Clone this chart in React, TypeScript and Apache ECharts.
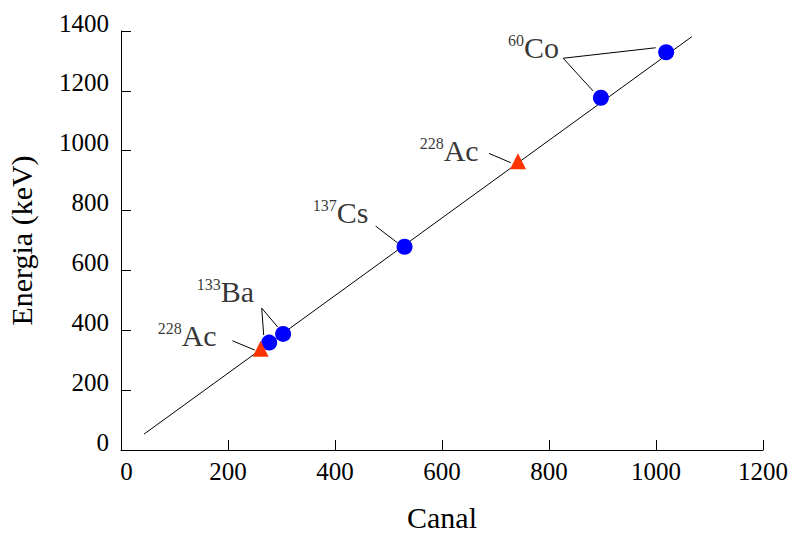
import React, { useEffect, useRef } from "react";
import * as echarts from "echarts";

const xTicks = { min: 0, max: 1200, interval: 200 };
const yTicks = { min: 0, max: 1400, interval: 200 };

// Calibration points: [canal, energy keV]
const circlePoints = [
  [277, 359],
  [303, 388],
  [530, 679],
  [897, 1177],
  [1019, 1329],
];
const trianglePoints = [
  [261, 338],
  [742, 965],
];
const fitLine = [
  [43, 53],
  [1067, 1381],
];

// Annotation labels: [canal, energy, mass number, element]
const labelAnchors = [
  [141.5, 528, "133", "Ba"],
  [68.6, 381, "228", "Ac"],
  [558.3, 1002, "228", "Ac"],
  [358.3, 795, "137", "Cs"],
  [723.2, 1346, "60", "Co"],
];

// Leader lines: [[x1,y1],[x2,y2]]
const leaderLines = [
  [[263, 474], [266.7, 384]],
  [[263, 474], [292.9, 411]],
  [[208.2, 365], [249.9, 334]],
  [[687.9, 991], [728.4, 960]],
  [[476, 748], [517, 692]],
  [[826.5, 1309], [999.4, 1344]],
  [[826.5, 1309], [882.2, 1200]],
];

const FONT = "'Liberation Serif', 'Times New Roman', serif";

export default function App() {
  const ref = useRef<HTMLDivElement>(null);
  useEffect(() => {
    if (!ref.current) return;
    const chart = echarts.init(ref.current, undefined, { renderer: "svg" });
    const axisCommon = {
      axisLine: { show: true, lineStyle: { color: "#000", width: 1 } },
      axisTick: { show: true, inside: true, length: 10, lineStyle: { color: "#000" } },
      splitLine: { show: false },
      nameTextStyle: { fontFamily: FONT, fontSize: 30, color: "#000" },
    };
    chart.setOption({
      animation: false,
      backgroundColor: "#fff",
      textStyle: { fontFamily: FONT, color: "#000" },
      grid: {
        left: 121,
        right: 33,
        top: 31,
        bottom: 86,
        containLabel: false,
        outerBoundsMode: "none",
      },
      xAxis: {
        type: "value",
        ...xTicks,
        ...axisCommon,
        name: "Canal",
        nameLocation: "middle",
        nameGap: 52,
        axisLabel: {
          fontFamily: FONT,
          fontSize: 25,
          color: "#000",
          margin: 9,
          formatter: (v: number) => (v === 0 ? "{z|0}" : String(v)),
          rich: {
            z: { fontFamily: FONT, fontSize: 25, color: "#000", padding: [0, 0, 0, 11] },
          },
        },
      },
      yAxis: {
        type: "value",
        ...yTicks,
        ...axisCommon,
        name: "Energia (keV)",
        nameLocation: "middle",
        nameGap: 85,
        axisLabel: {
          fontFamily: FONT,
          fontSize: 25,
          color: "#000",
          margin: 12,
          verticalAlign: "bottom",
          lineHeight: 16,
          formatter: (v: number) => String(v),
        },
      },
      series: [
        {
          type: "line",
          data: fitLine,
          showSymbol: false,
          symbol: "none",
          lineStyle: { color: "#000", width: 1 },
          z: 1,
        },
        {
          type: "lines",
          coordinateSystem: "cartesian2d",
          data: leaderLines.map((c) => ({ coords: c })),
          lineStyle: { color: "#000", width: 1, opacity: 1 },
          z: 1,
        },
        {
          type: "scatter",
          data: circlePoints,
          symbol: "circle",
          symbolSize: 16,
          itemStyle: { color: "#0000ff", opacity: 1 },
          z: 3,
        },
        {
          type: "scatter",
          data: trianglePoints,
          symbol: "triangle",
          symbolSize: 16,
          itemStyle: { color: "#ff3300", opacity: 1 },
          z: 3,
        },
        {
          type: "scatter",
          data: labelAnchors.map((a) => ({
            value: [a[0], a[1]],
            sup: a[2],
            el: a[3],
          })),
          symbolSize: 0,
          silent: true,
          label: {
            show: true,
            position: "right",
            distance: 0,
            align: "left",
            verticalAlign: "middle",
            color: "#000",
            formatter: (p: any) => `{sup|${p.data.sup}}{big|${p.data.el}}`,
            rich: {
              sup: {
                fontFamily: FONT,
                fontSize: 16,
                color: "#000",
                verticalAlign: "top",
                lineHeight: 30,
              },
              big: {
                fontFamily: FONT,
                fontSize: 30,
                color: "#000",
                lineHeight: 30,
              },
            },
          },
          z: 4,
        },
      ],
    });
    return () => chart.dispose();
  }, []);
  return (
    <div
      ref={ref}
      style={{ position: "fixed", left: 0, top: 0, width: 796, height: 536 }}
    />
  );
}
